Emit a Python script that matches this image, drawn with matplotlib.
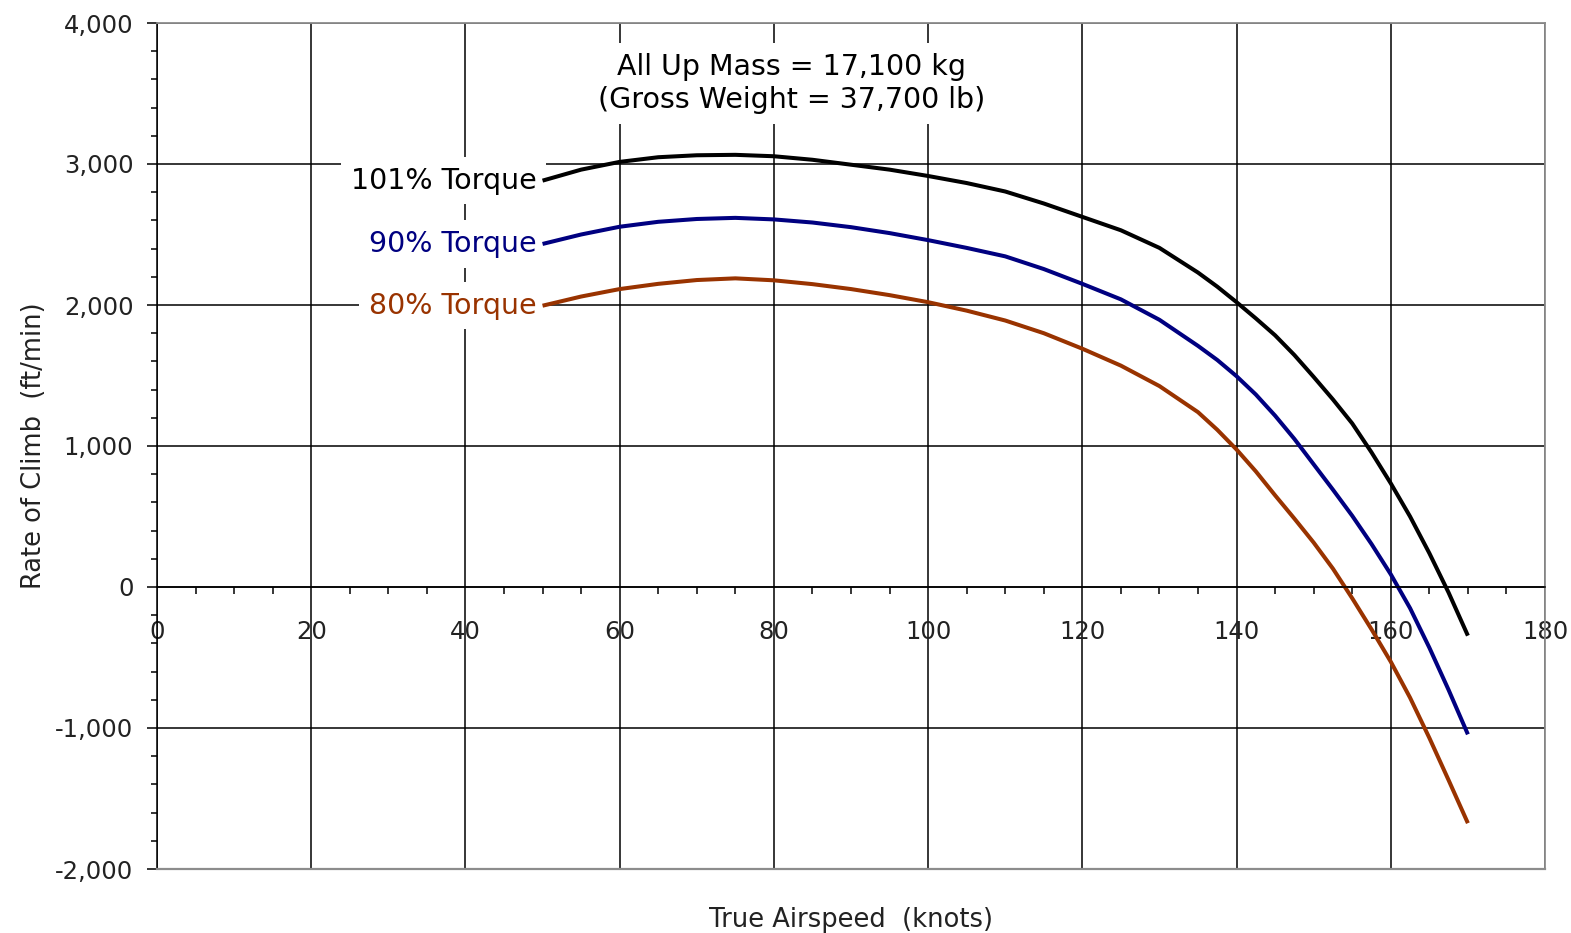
import matplotlib
matplotlib.use('Agg')
import matplotlib.pyplot as plt
from matplotlib.ticker import MultipleLocator, FuncFormatter

# true airspeed (knots) and rate of climb (ft/min)
airspeed = [50, 55, 60, 65, 70, 75, 80, 85, 90, 95, 100, 105, 110, 115, 120, 125, 130,
            135, 137.5, 140, 142.5, 145, 147.5, 150, 152.5, 155, 157.5, 160, 162.5,
            165, 167.5, 170]
roc_101 = [2882, 2960, 3015, 3048, 3062, 3065, 3055, 3030, 2995, 2960, 2915, 2865, 2805,
           2720, 2625, 2530, 2405, 2230, 2130, 2020, 1905, 1785, 1645, 1490, 1330, 1160,
           955, 735, 500, 240, -40, -345]
roc_90 = [2433, 2500, 2555, 2590, 2610, 2618, 2607, 2585, 2552, 2510, 2460, 2405, 2345,
          2255, 2150, 2040, 1895, 1710, 1610, 1495, 1365, 1215, 1050, 870, 690, 505,
          305, 90, -150, -430, -730, -1045]
roc_80 = [1995, 2060, 2113, 2150, 2177, 2189, 2175, 2148, 2113, 2070, 2020, 1960, 1890,
          1800, 1690, 1570, 1425, 1240, 1115, 975, 820, 650, 485, 315, 130, -80,
          -300, -530, -785, -1070, -1370, -1675]

series = [('101% Torque', roc_101, '#000000'),
          ('90% Torque', roc_90, '#000080'),
          ('80% Torque', roc_80, '#993300')]

title_text = 'All Up Mass = 17,100 kg\n(Gross Weight = 37,700 lb)'

plt.rcParams['font.family'] = ['DejaVu Sans']

fig = plt.figure(figsize=(15.71, 9.33), dpi=100)
ax = fig.add_axes([157 / 1571, 1 - 869 / 933, 1388 / 1571, 846 / 933])

ax.set_xlim(0, 180)
ax.set_ylim(-2000, 4000)

ax.xaxis.set_major_locator(MultipleLocator(20))
ax.xaxis.set_minor_locator(MultipleLocator(5))
ax.yaxis.set_major_locator(MultipleLocator(1000))
ax.yaxis.set_minor_locator(MultipleLocator(200))
ax.yaxis.set_major_formatter(FuncFormatter(lambda v, p: '{:,.0f}'.format(v)))

ax.set_axisbelow(True)
ax.grid(True, which='major', color='black', linewidth=1.1)

# x axis drawn through zero
ax.spines['bottom'].set_position(('data', 0))
ax.spines['bottom'].set_color('black')
ax.spines['bottom'].set_linewidth(1.1)
ax.spines['left'].set_color('black')
ax.spines['left'].set_linewidth(1.1)
for s in ['top', 'right']:
    ax.spines[s].set_color('#8c8c8c')
    ax.spines[s].set_linewidth(1.3)
ax.axhline(-2000, color='#8c8c8c', linewidth=1.6, zorder=3, clip_on=False)

ax.tick_params(axis='x', which='major', length=0, pad=24, labelsize=17.5, labelcolor='#222222')
ax.tick_params(axis='x', which='minor', length=5, width=1.1, direction='out', color='black')
ax.tick_params(axis='y', which='major', length=7, width=1.1, pad=10, labelsize=17.5,
               labelcolor='#222222', color='black')
ax.tick_params(axis='y', which='minor', length=4, width=1.1, color='black')

for label, roc, color in series:
    ax.plot(airspeed, roc, color=color, linewidth=2.9, zorder=2.5, solid_capstyle='butt')
    ax.text(49.2, roc[0], label, color=color, fontsize=20.5, ha='right', va='center',
            zorder=1.5, bbox=dict(facecolor='white', edgecolor='none', pad=7))

ax.text(82.3, 3570, title_text, fontsize=20.5, ha='center', va='center',
        linespacing=1.25, zorder=1.5,
        bbox=dict(facecolor='white', edgecolor='none', pad=7))

ax.set_xlabel('True Airspeed  (knots)', fontsize=18.5, color='#222222')
ax.set_ylabel('Rate of Climb  (ft/min)', fontsize=18.5, color='#222222')
ax.xaxis.set_label_coords(0.5, -0.045)
ax.yaxis.set_label_coords(-0.079, 0.5)

plt.savefig('out.png', dpi=100)
plt.clf()
